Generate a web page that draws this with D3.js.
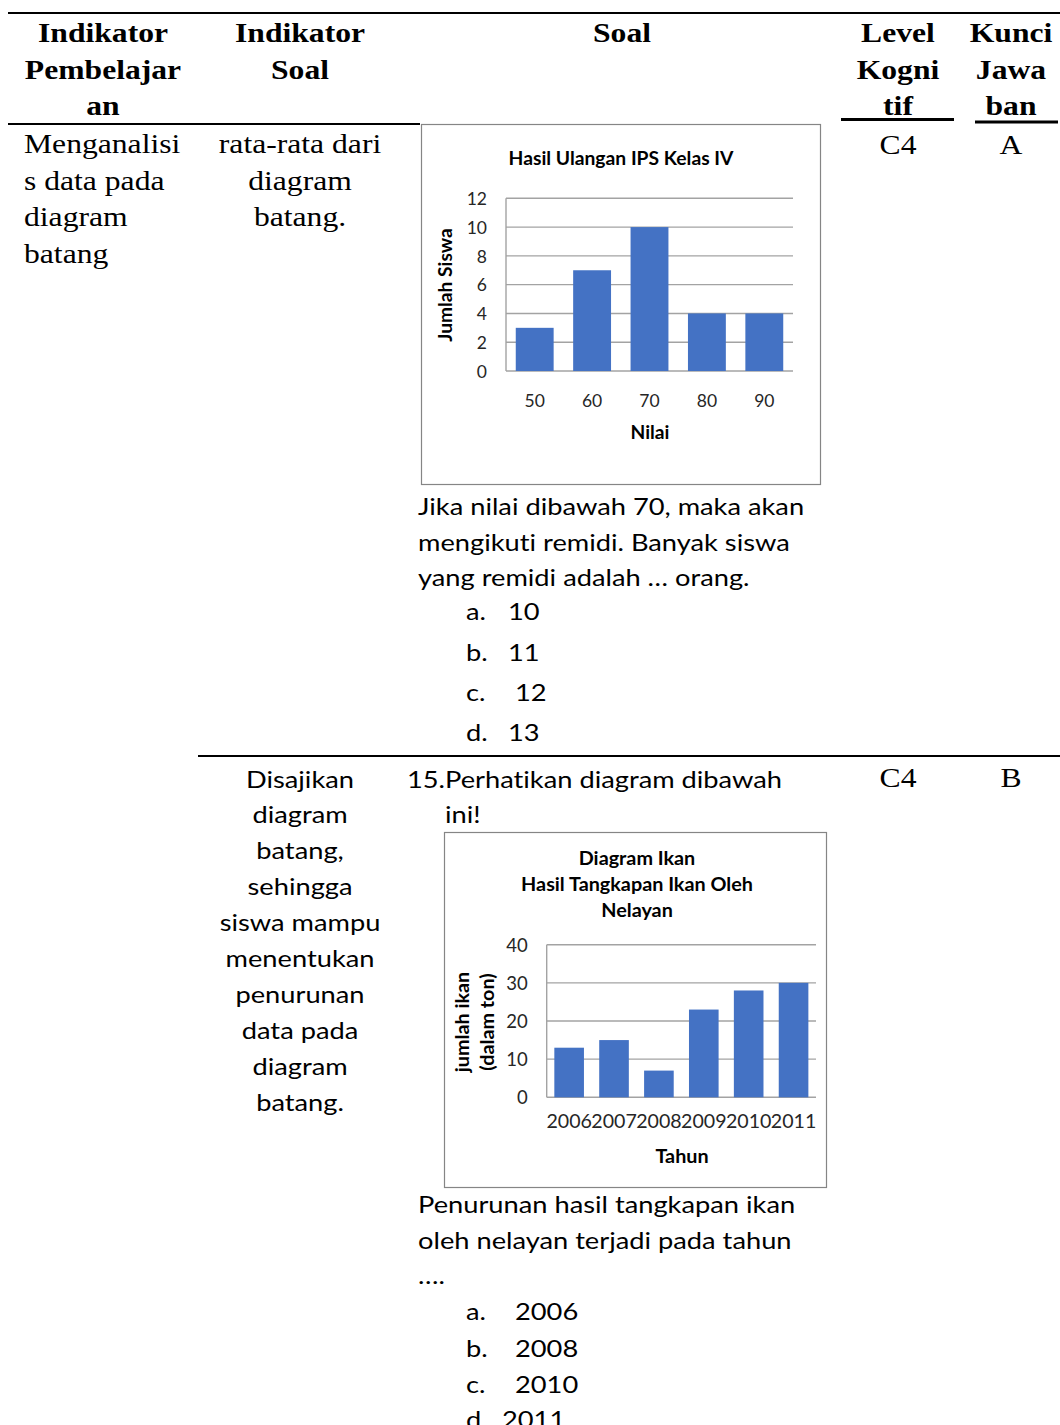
<!DOCTYPE html>
<html>
<head>
<meta charset="utf-8">
<script src="https://cdn.jsdelivr.net/npm/d3@7"></script>
<style>
  html, body { margin: 0; padding: 0; background: #fff; }
  svg { display: block; }
  text { font-variant-ligatures: none; font-feature-settings: "liga" 0; }
</style>
</head>
<body>
<svg id="page" width="1060" height="1425"></svg>
<script>
// ---------- chart data ----------
const nilaiCategories = ["50", "60", "70", "80", "90"];
const nilaiValues = [3, 7, 10, 4, 4];
const nilaiTicks = [0, 2, 4, 6, 8, 10, 12];

const tahunCategories = ["2006", "2007", "2008", "2009", "2010", "2011"];
const ikanValues = [13, 15, 7, 23, 28, 30];
const ikanTicks = [0, 10, 20, 30, 40];

// ---------- table text ----------
const headers = [
  ["Indikator", "Pembelajar", "an"],
  ["Indikator", "Soal"],
  ["Soal"],
  ["Level", "Kogni", "tif"],
  ["Kunci", "Jawa", "ban"]
];
const row1Indikator = ["Menganalisi", "s data pada", "diagram", "batang"];
const row1IndikatorSoal = ["rata-rata dari", "diagram", "batang."];
const row1Soal = ["Jika nilai dibawah 70, maka akan", "mengikuti remidi. Banyak siswa", "yang remidi adalah … orang."];
const row1Options = [["a.", "10"], ["b.", "11"], ["c.", " 12"], ["d.", "13"]];
const row2IndikatorSoal = ["Disajikan", "diagram", "batang,", "sehingga", "siswa mampu", "menentukan", "penurunan", "data pada", "diagram", "batang."];
const row2Intro = ["15.Perhatikan diagram dibawah", "ini!"];
const row2Soal = ["Penurunan hasil tangkapan ikan", "oleh nelayan terjadi pada tahun", "…."];
const row2Options = [["a.", " 2006"], ["b.", " 2008"], ["c.", " 2010"], ["d.", "2011"]];
const levels = ["C4", "C4"];
const keys = ["A", "B"];

// ---------- styling ----------
const SERIF = "'Liberation Serif', 'Times New Roman', serif";
const SANS = "Lato, 'Open Sans', sans-serif";
const BAR = "#4472C4";
const GRID = "#a3a3a3";
const SERIF_SX = 1.13;
const SANS_SX = 1.16;

const svg = d3.select("#page");

function label(parent, x, y, str, o = {}) {
  const sx = o.sx ?? 1;
  const rot = o.rotate ? ` rotate(${o.rotate})` : "";
  return parent.append("text")
    .attr("transform", `translate(${x},${y})${rot} scale(${sx},1)`)
    .attr("font-family", o.family || SANS)
    .attr("font-size", o.size || 23.5)
    .attr("font-weight", o.weight || "normal")
    .attr("text-anchor", o.anchor || "start")
    .attr("fill", o.fill || "#000")
    .style("white-space", "pre")
    .text(str);
}

function rule(x1, x2, y, w) {
  svg.append("line").attr("x1", x1).attr("x2", x2).attr("y1", y).attr("y2", y)
    .attr("stroke", "#000").attr("stroke-width", w);
}

// ---------- table rules ----------
rule(8, 1060, 13, 2);
rule(8, 420, 124, 2);
rule(841, 954, 119.5, 3);
rule(975, 1058, 122, 3);
rule(198, 1060, 756, 2);

// ---------- header ----------
const headerX = [103, 300, 622, 898, 1011];
headers.forEach((lines, i) => {
  lines.forEach((s, j) => {
    label(svg, headerX[i], 42 + j * 36.5, s,
      { family: SERIF, size: 28, weight: "bold", anchor: "middle", sx: SERIF_SX });
  });
});

// ---------- row 1 ----------
row1Indikator.forEach((s, j) =>
  label(svg, 24, 153 + j * 36.7, s, { family: SERIF, size: 28, sx: SERIF_SX }));
row1IndikatorSoal.forEach((s, j) =>
  label(svg, 300, 153 + j * 36.7, s, { family: SERIF, size: 28, anchor: "middle", sx: SERIF_SX }));
label(svg, 898, 154, levels[0], { family: SERIF, size: 28, anchor: "middle", sx: SERIF_SX });
label(svg, 1011, 154, keys[0], { family: SERIF, size: 28, anchor: "middle", sx: SERIF_SX });

row1Soal.forEach((s, j) => label(svg, 418, 515 + j * 35.5, s, { sx: SANS_SX }));
const row1OptY = [620, 661, 701, 741];
row1Options.forEach((o, j) => {
  label(svg, 466, row1OptY[j], o[0], { sx: SANS_SX });
  label(svg, 508, row1OptY[j], o[1], { sx: SANS_SX });
});

// ---------- row 2 ----------
row2IndikatorSoal.forEach((s, j) =>
  label(svg, 300, 787.5 + j * 35.9, s, { anchor: "middle", sx: SANS_SX }));
label(svg, 407, 787.5, row2Intro[0], { sx: SANS_SX });
label(svg, 445, 822.5, row2Intro[1], { sx: SANS_SX });
label(svg, 898, 787, levels[1], { family: SERIF, size: 28, anchor: "middle", sx: SERIF_SX });
label(svg, 1011, 787, keys[1], { family: SERIF, size: 28, anchor: "middle", sx: SERIF_SX });

row2Soal.forEach((s, j) => label(svg, 418, 1213 + j * 35.5, s, { sx: SANS_SX }));
const row2OptY = [1320, 1356.5, 1393, 1428];
row2Options.forEach((o, j) => {
  label(svg, 466, row2OptY[j], o[0], { sx: SANS_SX });
  label(svg, j === 3 ? 502 : 508, row2OptY[j], o[1], { sx: SANS_SX });
});

// ---------- bar chart builder ----------
function barChart(cfg) {
  const g = svg.append("g");
  g.append("rect")
    .attr("x", cfg.box[0] + 0.5).attr("y", cfg.box[1] + 0.5)
    .attr("width", cfg.box[2] - cfg.box[0]).attr("height", cfg.box[3] - cfg.box[1])
    .attr("fill", "#fff").attr("stroke", "#858585").attr("stroke-width", 1.2);

  const x = d3.scaleBand().domain(cfg.categories)
    .range([cfg.left, cfg.right]).paddingInner(0.34).paddingOuter(0.17);
  const y = d3.scaleLinear().domain([0, d3.max(cfg.ticks)]).range([cfg.bottom, cfg.top]);

  // horizontal gridlines
  g.append("g").selectAll("line").data(cfg.ticks).join("line")
    .attr("x1", cfg.left).attr("x2", cfg.right)
    .attr("y1", d => y(d)).attr("y2", d => y(d))
    .attr("stroke", GRID).attr("stroke-width", 1.4);
  // vertical axis line
  g.append("line").attr("x1", cfg.left).attr("x2", cfg.left)
    .attr("y1", y(0)).attr("y2", y(d3.max(cfg.ticks)))
    .attr("stroke", GRID).attr("stroke-width", 1.4);

  // bars
  g.append("g").selectAll("rect").data(cfg.values).join("rect")
    .attr("x", (d, i) => x(cfg.categories[i]))
    .attr("width", x.bandwidth())
    .attr("y", d => y(d))
    .attr("height", d => y(0) - y(d))
    .attr("fill", BAR);

  // y axis labels
  const yAxis = g.append("g").attr("transform", `translate(${cfg.left},0)`)
    .call(d3.axisLeft(y).tickValues(cfg.ticks).tickSize(0).tickPadding(cfg.yPad));
  yAxis.select(".domain").remove();
  yAxis.selectAll("text")
    .attr("font-family", SANS).attr("font-size", cfg.tickSize)
    .attr("fill", "#262626").attr("dy", "0.36em");

  // x axis labels
  const xAxis = g.append("g").attr("transform", `translate(0,${cfg.xLabelY})`)
    .call(d3.axisBottom(x).tickSize(0).tickPadding(0));
  xAxis.select(".domain").remove();
  xAxis.selectAll("text")
    .attr("font-family", SANS).attr("font-size", cfg.xTickSize || cfg.tickSize)
    .attr("fill", "#262626").attr("dy", 0).attr("y", 0);

  // title
  cfg.title.forEach((s, j) =>
    label(g, cfg.titleX, cfg.titleY + j * 26, s,
      { size: cfg.titleSize, weight: "bold", anchor: "middle" }));

  // axis titles
  cfg.yTitle.forEach((s, j) =>
    label(g, cfg.yTitleX[j], cfg.yTitleCY, s,
      { size: cfg.axisTitleSize, weight: "bold", anchor: "middle", rotate: -90 }));
  label(g, cfg.xTitleX, cfg.xTitleY, cfg.xTitle,
    { size: cfg.axisTitleSize, weight: "bold", anchor: "middle" });
}

barChart({
  box: [421, 124, 820, 484],
  categories: nilaiCategories, values: nilaiValues, ticks: nilaiTicks,
  left: 506, right: 793, top: 198.3, bottom: 371,
  yPad: 19, xLabelY: 407, tickSize: 17.5,
  title: ["Hasil Ulangan IPS Kelas IV"], titleX: 621, titleY: 165, titleSize: 19.3,
  yTitle: ["Jumlah Siswa"], yTitleX: [452], yTitleCY: 285,
  xTitle: "Nilai", xTitleX: 650, xTitleY: 439, axisTitleSize: 19.2
});

barChart({
  box: [444, 832, 826, 1187],
  categories: tahunCategories, values: ikanValues, ticks: ikanTicks,
  left: 546.7, right: 816, top: 944.7, bottom: 1097.3,
  yPad: 19, xLabelY: 1128, tickSize: 18.5, xTickSize: 19.6,
  title: ["Diagram Ikan", "Hasil Tangkapan Ikan Oleh", "Nelayan"], titleX: 637, titleY: 865.3, titleSize: 19.8,
  yTitle: ["jumlah ikan", "(dalam ton)"], yTitleX: [469, 494], yTitleCY: 1022,
  xTitle: "Tahun", xTitleX: 682, xTitleY: 1163, axisTitleSize: 19.8
});
</script>
</body>
</html>
